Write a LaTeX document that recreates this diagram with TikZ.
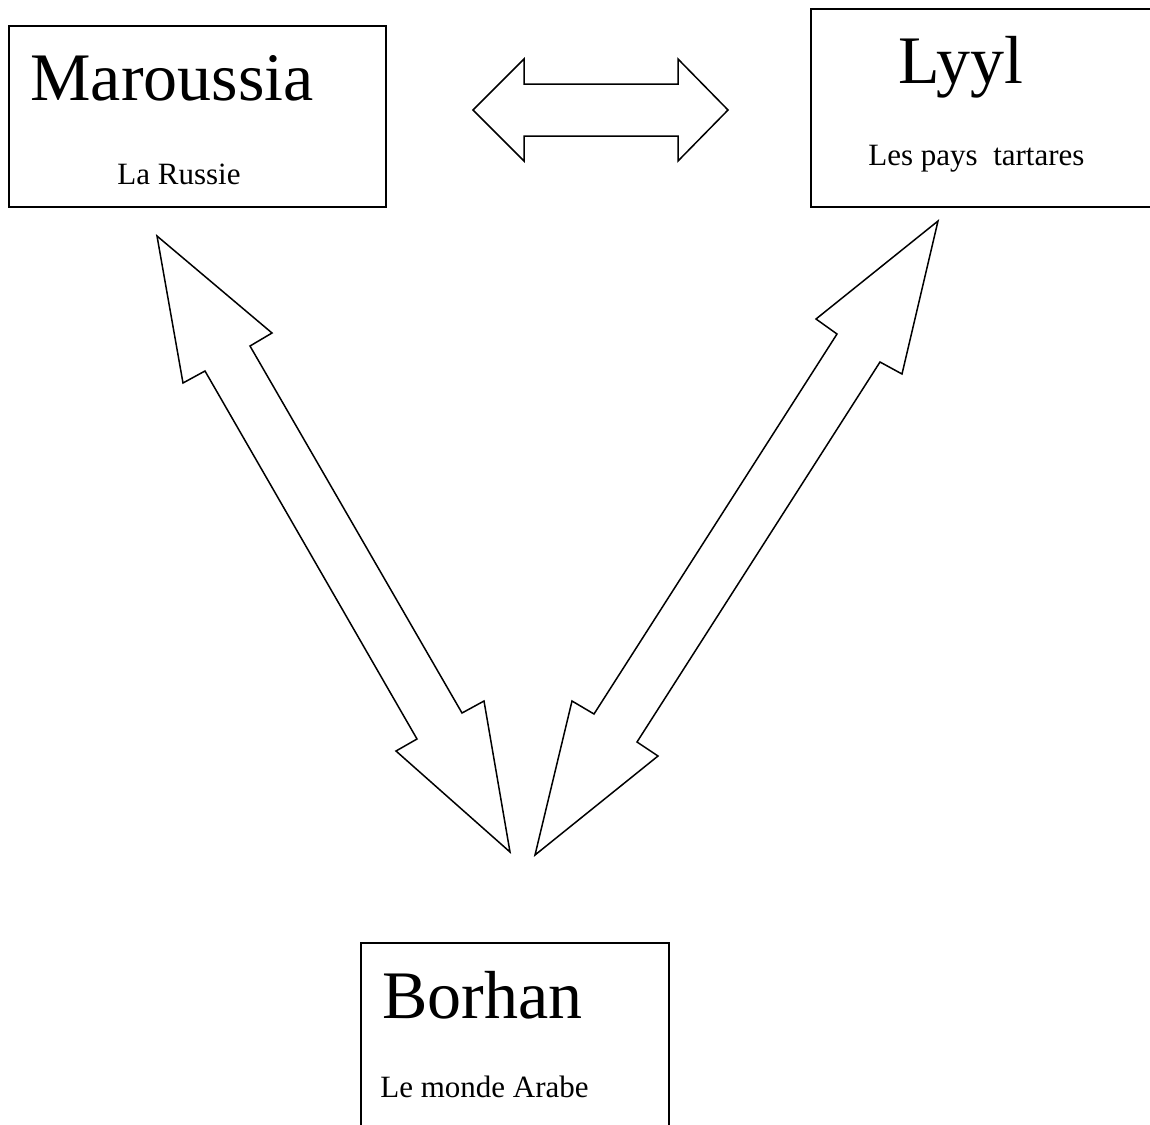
\documentclass[tikz,border=0pt]{standalone}
\usepackage{fontspec}
\setmainfont{Liberation Serif}
\usepackage{tikz}

\begin{document}
\begin{tikzpicture}[x=0.5pt,y=-0.5pt,
  box/.style={draw,line width=1pt,inner sep=0pt,anchor=north west},
  big/.style={anchor=base west,inner sep=0pt,font=\fontsize{34}{40}\selectfont},
  small/.style={anchor=base west,inner sep=0pt,font=\fontsize{15.5}{19}\selectfont},
  blockarrow/.style={draw,line width=0.75pt,line join=miter,fill=white}]
\useasboundingbox (0,0) rectangle (1150,1124);

\node [box,minimum width=188.5pt,minimum height=90.5pt] (russie) at (8,25) {};
\node [box,minimum width=185pt,minimum height=99pt] (tartares) at (810,8) {};
\node [box,minimum width=154pt,minimum height=100pt] (arabe) at (360,942) {};

\node [big] (maroussia) at (30,100) {Maroussia};
\node [small] (larussie) at (117,184) {La Russie};
\node [big] (lyyl) at (898,83) {Lyyl};
\node [small] (lespays) at (868,165) {Les pays~~tartares};
\node [big] (borhan) at (382,1018) {Borhan};
\node [small] (lemonde) at (380,1097) {Le monde Arabe};

% top arrow
\path[blockarrow] (473,110)--(524,59)--(524,84)--(678,84)--(678,59)--(728,110)
  --(678,161)--(678,136)--(524,136)--(524,161)--cycle;

% left arrow
\path[blockarrow] (157,236)--(272,333)--(250,346)--(462,713)--(484,701)--(510,852)
  --(396,751)--(417,739)--(205,371)--(183,383)--cycle;

% right arrow
\path[blockarrow] (938,221)--(902,374)--(880,362)--(637,742)--(658,756)--(535,855)
  --(572,701)--(594,714)--(837,334)--(816,319)--cycle;

\end{tikzpicture}
\end{document}
